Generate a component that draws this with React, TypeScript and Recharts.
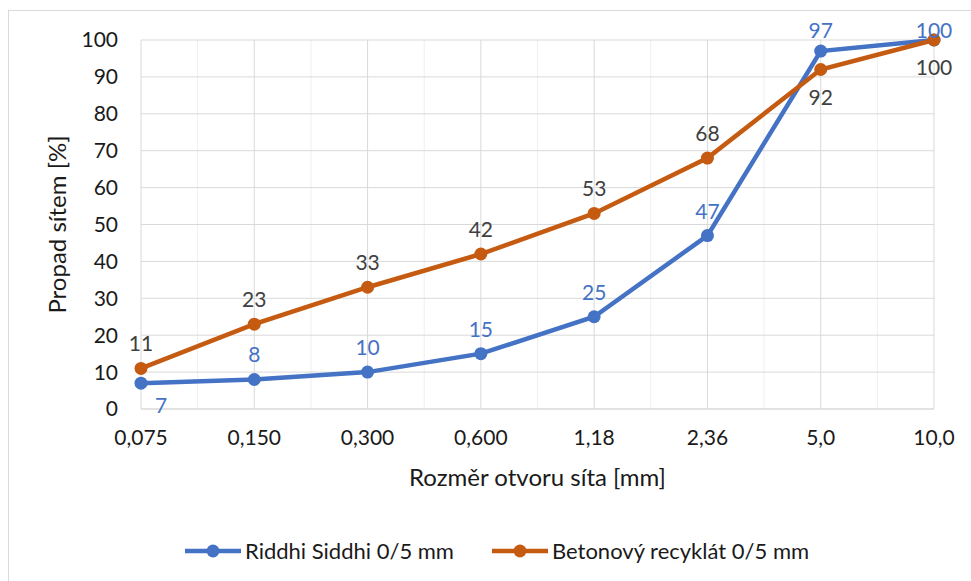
import { LineChart, Line, XAxis, YAxis, CartesianGrid, LabelList, Label } from "recharts";

const sieveSizes = ["0,075", "0,150", "0,300", "0,600", "1,18", "2,36", "5,0", "10,0"];
const riddhiSiddhi = [7, 8, 10, 15, 25, 47, 97, 100];
const betonovyRecyklat = [11, 23, 33, 42, 53, 68, 92, 100];
const yTicks = [0, 10, 20, 30, 40, 50, 60, 70, 80, 90, 100];

// where Excel put each data label
const riddhiLabelSide = ["belowRight", "above", "above", "above", "above", "above", "above", "above"];
const betonLabelSide = ["above", "above", "above", "above", "above", "above", "below", "below"];

const BLUE = "#4472C4";
const ORANGE = "#C55A11";
const FONT = "Lato, 'Open Sans', sans-serif";

const data = sieveSizes.map((size, i) => ({
    size,
    riddhi: riddhiSiddhi[i],
    beton: betonovyRecyklat[i],
}));

const makeLabel = (sides: string[], color: string) => (props: any) => {
    const { x, y, value, index } = props;
    const side = sides[index];
    let dx = 0;
    let dy = -17;
    if (side === "below") dy = 35;
    if (side === "belowRight") { dx = 20; dy = 30; }
    // labels are kept inside the chart area, like Excel does
    const ty = Math.max(y + dy, 38);
    return (
        <text x={x + dx} y={ty} textAnchor="middle" fill={color} fontSize={21} fontFamily={FONT}>
            {value}
        </text>
    );
};

const minorVerticals = ({ offset }: any) => {
    const n = sieveSizes.length - 1;
    const step = offset.width / n;
    return sieveSizes.slice(1).map((_, i) => offset.left + (i + 0.5) * step);
};

function LegendItem({ color, text }: { color: string, text: string }) {
    return (
        <div style={{ display: "flex", alignItems: "center" }}>
            <svg width={56} height={16}>
                <line x1={0} y1={8} x2={56} y2={8} stroke={color} strokeWidth={4.5} />
                <circle cx={28} cy={8} r={6.5} fill={color} />
            </svg>
            <span style={{ marginLeft: 4 }}>{text}</span>
        </div>
    );
}

export default function App() {
    return (
        <div style={{ position: "absolute", left: 0, top: 0, width: 971, height: 581, overflow: "hidden", background: "#fff" }}>
            <div style={{ position: "absolute", left: 8, top: 10, width: 1000, height: 620, border: "1px solid #d9d9d9" }} />
            <div style={{ position: "absolute", left: 0, top: 0 }}>
                <LineChart width={971} height={581} data={data} margin={{ top: 40, right: 37, left: 0, bottom: 92 }}>
                    <CartesianGrid stroke="#efefef" horizontal={false} verticalCoordinatesGenerator={minorVerticals} />
                    <CartesianGrid stroke="#d9d9d9" />
                    <XAxis
                        dataKey="size"
                        height={80}
                        tickLine={false}
                        tickSize={0}
                        tickMargin={21}
                        axisLine={{ stroke: "#d9d9d9" }}
                        tick={{ fill: "#1a1a1a", fontSize: 21, fontFamily: FONT }}
                        interval={0}
                    >
                        <Label
                            value="Rozměr otvoru síta [mm]"
                            position="insideBottom"
                            offset={3}
                            style={{ fill: "#1a1a1a", fontSize: 24, fontFamily: FONT }}
                        />
                    </XAxis>
                    <YAxis
                        width={141}
                        domain={[0, 100]}
                        ticks={yTicks}
                        interval={0}
                        tickLine={false}
                        tickSize={0}
                        tickMargin={23}
                        axisLine={false}
                        tick={{ fill: "#1a1a1a", fontSize: 21, fontFamily: FONT }}
                    >
                        <Label
                            value="Propad sítem [%]"
                            angle={-90}
                            position="insideLeft"
                            offset={57}
                            style={{ fill: "#1a1a1a", fontSize: 24, fontFamily: FONT, textAnchor: "middle" }}
                        />
                    </YAxis>
                    <Line
                        dataKey="riddhi"
                        name="Riddhi Siddhi 0/5 mm"
                        stroke={BLUE}
                        strokeWidth={4.5}
                        dot={{ r: 6.5, fill: BLUE, stroke: BLUE, strokeWidth: 0 }}
                        activeDot={false}
                        isAnimationActive={false}
                    >
                        <LabelList dataKey="riddhi" content={makeLabel(riddhiLabelSide, BLUE)} />
                    </Line>
                    <Line
                        dataKey="beton"
                        name="Betonový recyklát 0/5 mm"
                        stroke={ORANGE}
                        strokeWidth={4.5}
                        dot={{ r: 6.5, fill: ORANGE, stroke: ORANGE, strokeWidth: 0 }}
                        activeDot={false}
                        isAnimationActive={false}
                    >
                        <LabelList dataKey="beton" content={makeLabel(betonLabelSide, "#404040")} />
                    </Line>
                </LineChart>
            </div>
            <div style={{
                position: "absolute", left: 185, top: 539, display: "flex", gap: 38,
                fontFamily: FONT, fontSize: 22, color: "#1a1a1a", lineHeight: "24px",
            }}>
                <LegendItem color={BLUE} text="Riddhi Siddhi 0/5 mm" />
                <LegendItem color={ORANGE} text="Betonový recyklát 0/5 mm" />
            </div>
        </div>
    );
}
